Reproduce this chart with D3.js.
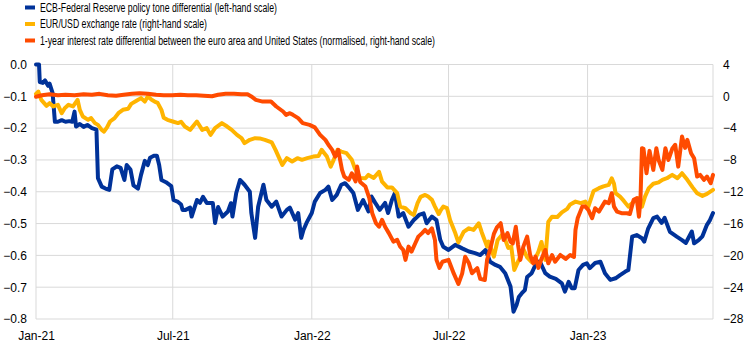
<!DOCTYPE html>
<html>
<head>
<meta charset="utf-8">
<script src="https://cdn.jsdelivr.net/npm/d3@7"></script>
<style>
  html, body { margin: 0; padding: 0; background: #fff; }
  svg { display: block; }
</style>
</head>
<body>
<svg id="chart" width="746" height="346"></svg>
<script>
// ---------- DATA ----------
const legendLabels = [
  "ECB-Federal Reserve policy tone differential (left-hand scale)",
  "EUR/USD exchange rate (right-hand scale)",
  "1-year interest rate differential between the euro area and United States (normalised, right-hand scale)"
];
const seriesColors = ["#003299", "#ffb400", "#ff4b00"];
const leftTicks = [0, -0.1, -0.2, -0.3, -0.4, -0.5, -0.6, -0.7, -0.8];
const rightTicks = [4, 0, -4, -8, -12, -16, -20, -24, -28];
const xTickDates = ["2021-01-01", "2021-07-01", "2022-01-01", "2022-07-01", "2023-01-01"];

// ECB-Fed policy tone differential (left-hand scale)
const toneDiff = [
["2021-01-01",0.0],["2021-01-05",0.0],["2021-01-06",-0.055],["2021-01-10",-0.058],["2021-01-13",-0.05],["2021-01-17",-0.067],["2021-01-19",-0.06],["2021-01-23",-0.09],["2021-01-26",-0.18],["2021-01-30",-0.18],["2021-02-04",-0.175],["2021-02-09",-0.18],["2021-02-14",-0.178],["2021-02-18",-0.18],["2021-02-21",-0.148],["2021-02-23",-0.195],["2021-02-28",-0.187],["2021-03-05",-0.196],["2021-03-10",-0.19],["2021-03-16",-0.2],["2021-03-22",-0.205],["2021-03-24",-0.357],["2021-03-29",-0.384],["2021-04-03",-0.39],["2021-04-08",-0.394],["2021-04-12",-0.33],["2021-04-18",-0.32],["2021-04-23",-0.325],["2021-04-28",-0.363],["2021-05-01",-0.316],["2021-05-06",-0.33],["2021-05-10",-0.38],["2021-05-16",-0.39],["2021-05-20",-0.347],["2021-05-25",-0.303],["2021-05-29",-0.316],["2021-06-01",-0.293],["2021-06-06",-0.287],["2021-06-10",-0.287],["2021-06-13",-0.316],["2021-06-16",-0.363],["2021-06-22",-0.37],["2021-06-29",-0.382],["2021-07-02",-0.426],["2021-07-08",-0.432],["2021-07-12",-0.44],["2021-07-14",-0.457],["2021-07-18",-0.457],["2021-07-24",-0.45],["2021-07-26",-0.478],["2021-08-02",-0.426],["2021-08-06",-0.435],["2021-08-10",-0.416],["2021-08-15",-0.435],["2021-08-19",-0.435],["2021-08-23",-0.435],["2021-08-26",-0.498],["2021-08-30",-0.448],["2021-09-05",-0.478],["2021-09-12",-0.462],["2021-09-16",-0.436],["2021-09-18",-0.478],["2021-09-23",-0.404],["2021-09-28",-0.363],["2021-10-04",-0.378],["2021-10-11",-0.4],["2021-10-13",-0.467],["2021-10-18",-0.545],["2021-10-22",-0.447],["2021-10-29",-0.378],["2021-11-02",-0.426],["2021-11-09",-0.447],["2021-11-15",-0.431],["2021-11-22",-0.478],["2021-11-29",-0.457],["2021-12-03",-0.45],["2021-12-10",-0.488],["2021-12-14",-0.467],["2021-12-18",-0.545],["2021-12-21",-0.52],["2021-12-25",-0.498],["2022-01-01",-0.467],["2022-01-05",-0.431],["2022-01-12",-0.404],["2022-01-19",-0.394],["2022-01-23",-0.384],["2022-01-28",-0.426],["2022-02-03",-0.41],["2022-02-09",-0.378],["2022-02-14",-0.373],["2022-02-20",-0.389],["2022-02-25",-0.404],["2022-03-03",-0.457],["2022-03-10",-0.426],["2022-03-17",-0.462],["2022-03-21",-0.415],["2022-03-26",-0.435],["2022-04-01",-0.457],["2022-04-08",-0.435],["2022-04-12",-0.467],["2022-04-17",-0.426],["2022-04-21",-0.404],["2022-04-26",-0.478],["2022-05-02",-0.467],["2022-05-09",-0.51],["2022-05-16",-0.489],["2022-05-23",-0.473],["2022-05-29",-0.468],["2022-06-02",-0.499],["2022-06-09",-0.478],["2022-06-15",-0.489],["2022-06-20",-0.551],["2022-06-24",-0.573],["2022-07-01",-0.583],["2022-07-10",-0.567],["2022-07-19",-0.578],["2022-07-28",-0.588],["2022-08-05",-0.593],["2022-08-12",-0.599],["2022-08-19",-0.583],["2022-08-25",-0.62],["2022-09-01",-0.63],["2022-09-07",-0.636],["2022-09-14",-0.656],["2022-09-21",-0.698],["2022-09-25",-0.777],["2022-09-29",-0.756],["2022-10-02",-0.731],["2022-10-06",-0.719],["2022-10-10",-0.709],["2022-10-13",-0.668],["2022-10-19",-0.656],["2022-10-26",-0.62],["2022-10-30",-0.62],["2022-11-06",-0.656],["2022-11-12",-0.667],["2022-11-20",-0.674],["2022-11-28",-0.688],["2022-12-02",-0.714],["2022-12-07",-0.683],["2022-12-11",-0.703],["2022-12-15",-0.703],["2022-12-20",-0.646],["2022-12-26",-0.63],["2022-12-31",-0.625],["2023-01-04",-0.64],["2023-01-11",-0.624],["2023-01-18",-0.62],["2023-01-24",-0.656],["2023-01-31",-0.677],["2023-02-07",-0.672],["2023-02-13",-0.662],["2023-02-20",-0.651],["2023-02-24",-0.646],["2023-03-01",-0.541],["2023-03-07",-0.536],["2023-03-14",-0.546],["2023-03-17",-0.557],["2023-03-22",-0.517],["2023-03-29",-0.483],["2023-04-03",-0.478],["2023-04-09",-0.498],["2023-04-13",-0.482],["2023-04-20",-0.526],["2023-04-29",-0.541],["2023-05-06",-0.552],["2023-05-11",-0.561],["2023-05-19",-0.525],["2023-05-22",-0.562],["2023-05-28",-0.552],["2023-06-02",-0.54],["2023-06-08",-0.504],["2023-06-12",-0.489],["2023-06-16",-0.467]
];

// EUR/USD exchange rate (right-hand scale)
const eurUsd = [
["2021-01-01",0.31],["2021-01-04",0.6],["2021-01-08",-0.44],["2021-01-15",-1.2],["2021-01-19",-0.86],["2021-01-24",-1.28],["2021-01-30",-1.07],["2021-02-04",-2.12],["2021-02-08",-1.49],["2021-02-13",-1.07],["2021-02-19",-1.28],["2021-02-25",-0.44],["2021-02-28",-1.7],["2021-03-04",-2.54],["2021-03-11",-2.96],["2021-03-15",-2.74],["2021-03-20",-3.37],["2021-03-24",-3.59],["2021-03-29",-4.22],["2021-04-01",-4.43],["2021-04-05",-3.9],["2021-04-09",-3.17],["2021-04-15",-2.74],["2021-04-20",-2.12],["2021-04-26",-1.7],["2021-05-03",-1.57],["2021-05-07",-0.95],["2021-05-14",-0.57],["2021-05-20",-0.23],["2021-05-25",-0.66],["2021-05-29",-0.03],["2021-06-03",-0.44],["2021-06-07",-0.66],["2021-06-11",-0.82],["2021-06-16",-1.7],["2021-06-19",-2.7],["2021-06-24",-2.96],["2021-07-01",-3.17],["2021-07-08",-3.37],["2021-07-12",-3.2],["2021-07-17",-3.8],["2021-07-24",-4.22],["2021-08-02",-3.17],["2021-08-09",-4.22],["2021-08-15",-4.0],["2021-08-20",-4.85],["2021-08-26",-4.0],["2021-09-04",-3.37],["2021-09-11",-3.8],["2021-09-17",-4.22],["2021-09-24",-4.85],["2021-09-30",-5.26],["2021-10-04",-5.89],["2021-10-11",-5.47],["2021-10-18",-5.26],["2021-10-24",-5.29],["2021-10-31",-5.47],["2021-11-09",-5.79],["2021-11-14",-6.73],["2021-11-18",-7.58],["2021-11-23",-8.62],["2021-11-29",-7.78],["2021-12-06",-8.2],["2021-12-13",-7.78],["2021-12-19",-7.99],["2021-12-26",-7.78],["2022-01-03",-7.58],["2022-01-10",-7.5],["2022-01-14",-6.73],["2022-01-21",-7.58],["2022-01-26",-8.84],["2022-01-30",-7.99],["2022-02-04",-6.73],["2022-02-09",-6.95],["2022-02-16",-7.15],["2022-02-23",-7.99],["2022-02-27",-9.04],["2022-03-06",-10.26],["2022-03-13",-10.3],["2022-03-17",-9.88],["2022-03-24",-10.26],["2022-03-31",-9.5],["2022-04-04",-10.72],["2022-04-11",-11.45],["2022-04-17",-11.45],["2022-04-24",-12.18],["2022-04-28",-13.87],["2022-05-05",-14.07],["2022-05-12",-14.7],["2022-05-16",-14.91],["2022-05-21",-13.44],["2022-05-25",-12.65],["2022-05-31",-12.4],["2022-06-04",-12.61],["2022-06-09",-13.02],["2022-06-13",-13.87],["2022-06-18",-14.8],["2022-06-21",-14.28],["2022-06-24",-13.87],["2022-06-29",-14.07],["2022-07-03",-15.54],["2022-07-10",-17.22],["2022-07-14",-18.37],["2022-07-21",-17.05],["2022-07-28",-16.59],["2022-08-03",-16.8],["2022-08-10",-15.96],["2022-08-14",-17.12],["2022-08-21",-18.9],["2022-08-23",-18.27],["2022-08-30",-20.16],["2022-09-04",-18.06],["2022-09-11",-17.3],["2022-09-18",-19.06],["2022-09-22",-18.9],["2022-09-26",-21.83],["2022-10-02",-20.57],["2022-10-08",-19.2],["2022-10-13",-20.26],["2022-10-19",-20.83],["2022-10-23",-20.57],["2022-10-28",-19.53],["2022-11-01",-18.31],["2022-11-06",-20.57],["2022-11-10",-15.79],["2022-11-15",-15.13],["2022-11-22",-15.17],["2022-11-28",-14.6],["2022-12-05",-14.16],["2022-12-09",-13.59],["2022-12-16",-13.24],["2022-12-23",-13.44],["2022-12-29",-13.24],["2023-01-02",-13.87],["2023-01-09",-11.9],["2023-01-16",-11.55],["2023-01-22",-11.33],["2023-01-29",-11.14],["2023-02-02",-10.3],["2023-02-05",-11.0],["2023-02-07",-12.18],["2023-02-13",-12.61],["2023-02-18",-13.15],["2023-02-24",-13.87],["2023-03-03",-13.24],["2023-03-09",-12.81],["2023-03-14",-13.87],["2023-03-18",-12.61],["2023-03-23",-11.55],["2023-03-29",-11.0],["2023-04-05",-10.82],["2023-04-10",-10.5],["2023-04-16",-10.3],["2023-04-23",-9.88],["2023-04-30",-10.3],["2023-05-06",-9.67],["2023-05-13",-10.5],["2023-05-20",-11.45],["2023-05-26",-12.18],["2023-06-02",-12.52],["2023-06-08",-12.27],["2023-06-16",-11.77]
];

// 1-year interest rate differential, normalised (right-hand scale)
const rateDiff = [
["2021-01-01",-0.06],["2021-01-09",0.13],["2021-01-19",0.25],["2021-01-30",0.13],["2021-02-09",0.19],["2021-02-21",0.13],["2021-03-05",0.25],["2021-03-16",0.19],["2021-03-26",0.31],["2021-04-06",0.13],["2021-04-17",0.06],["2021-04-27",0.19],["2021-05-08",0.31],["2021-05-18",0.38],["2021-05-29",0.31],["2021-06-09",0.19],["2021-06-19",0.13],["2021-06-30",0.13],["2021-07-11",0.19],["2021-07-21",0.13],["2021-08-01",0.13],["2021-08-11",0.06],["2021-08-22",0.0],["2021-08-30",0.19],["2021-09-09",0.31],["2021-09-20",0.31],["2021-09-30",0.25],["2021-10-08",0.25],["2021-10-13",-0.02],["2021-10-19",-0.44],["2021-10-28",-0.66],["2021-11-08",-0.66],["2021-11-15",-1.28],["2021-11-24",-1.91],["2021-11-28",-2.33],["2021-12-03",-2.12],["2021-12-07",-2.33],["2021-12-14",-2.74],["2021-12-20",-3.37],["2021-12-29",-3.59],["2022-01-05",-3.9],["2022-01-12",-4.85],["2022-01-19",-5.48],["2022-01-23",-6.1],["2022-01-28",-6.73],["2022-02-01",-7.58],["2022-02-05",-6.73],["2022-02-10",-9.25],["2022-02-13",-10.1],["2022-02-19",-10.5],["2022-02-23",-9.67],["2022-02-28",-10.7],["2022-03-02",-8.83],["2022-03-06",-10.76],["2022-03-13",-11.35],["2022-03-18",-12.77],["2022-03-22",-14.7],["2022-03-27",-15.96],["2022-03-31",-16.4],["2022-04-04",-15.54],["2022-04-08",-16.4],["2022-04-13",-17.2],["2022-04-19",-18.27],["2022-04-24",-18.06],["2022-04-28",-18.9],["2022-05-02",-19.3],["2022-05-05",-20.57],["2022-05-09",-18.9],["2022-05-13",-19.53],["2022-05-18",-18.47],["2022-05-22",-17.64],["2022-05-27",-17.2],["2022-05-31",-16.8],["2022-06-04",-17.2],["2022-06-09",-16.6],["2022-06-13",-18.06],["2022-06-15",-20.57],["2022-06-19",-21.58],["2022-06-23",-20.8],["2022-07-01",-20.57],["2022-07-08",-22.3],["2022-07-14",-23.6],["2022-07-19",-22.3],["2022-07-23",-20.16],["2022-07-28",-21.0],["2022-08-01",-22.25],["2022-08-08",-21.6],["2022-08-12",-22.96],["2022-08-18",-23.1],["2022-08-21",-20.57],["2022-08-26",-18.9],["2022-08-30",-17.3],["2022-09-03",-16.48],["2022-09-08",-15.96],["2022-09-12",-18.06],["2022-09-17",-17.2],["2022-09-21",-18.27],["2022-09-24",-18.5],["2022-09-28",-16.4],["2022-10-01",-18.7],["2022-10-04",-20.57],["2022-10-08",-18.9],["2022-10-13",-17.64],["2022-10-17",-19.95],["2022-10-21",-21.0],["2022-10-24",-20.16],["2022-10-28",-21.58],["2022-11-01",-20.45],["2022-11-06",-19.32],["2022-11-10",-21.0],["2022-11-15",-19.95],["2022-11-19",-20.8],["2022-11-26",-19.95],["2022-12-03",-20.45],["2022-12-09",-19.95],["2022-12-14",-20.2],["2022-12-16",-16.8],["2022-12-19",-15.29],["2022-12-25",-13.87],["2022-12-29",-13.87],["2023-01-02",-14.28],["2023-01-07",-15.33],["2023-01-11",-14.07],["2023-01-16",-14.5],["2023-01-20",-13.87],["2023-01-24",-13.24],["2023-01-29",-13.44],["2023-02-02",-12.18],["2023-02-05",-13.87],["2023-02-09",-14.5],["2023-02-15",-14.7],["2023-02-22",-14.7],["2023-02-26",-14.8],["2023-03-03",-13.02],["2023-03-07",-12.81],["2023-03-10",-15.13],["2023-03-12",-13.02],["2023-03-14",-6.52],["2023-03-16",-6.6],["2023-03-20",-9.67],["2023-03-24",-6.86],["2023-03-29",-9.25],["2023-04-02",-6.52],["2023-04-05",-8.0],["2023-04-10",-9.25],["2023-04-14",-6.52],["2023-04-18",-8.0],["2023-04-23",-6.6],["2023-04-27",-6.1],["2023-05-01",-8.84],["2023-05-06",-5.06],["2023-05-10",-6.48],["2023-05-13",-5.48],["2023-05-18",-7.15],["2023-05-22",-7.78],["2023-05-26",-10.09],["2023-05-30",-9.88],["2023-06-04",-10.5],["2023-06-08",-10.09],["2023-06-13",-10.92],["2023-06-16",-9.88]
];

// ---------- CHART ----------
const parse = d3.timeParse("%Y-%m-%d");
const svg = d3.select("#chart");
const plot = { left: 36, right: 713, top: 64.5, bottom: 319 };

const x = d3.scaleTime()
  .domain([parse("2021-01-01"), parse("2023-06-16")])
  .range([plot.left, plot.right]);
const yL = d3.scaleLinear().domain([-0.8, 0]).range([plot.bottom, plot.top]);
const yR = d3.scaleLinear().domain([-28, 4]).range([plot.bottom, plot.top]);

const gridColor = "#d9d9d9";
const font = "'Liberation Sans', Arial, sans-serif";

// horizontal gridlines
svg.append("g")
  .selectAll("line").data(leftTicks).join("line")
  .attr("x1", plot.left).attr("x2", plot.right)
  .attr("y1", d => yL(d)).attr("y2", d => yL(d))
  .attr("stroke", gridColor).attr("stroke-width", 1);

// vertical gridlines
const xTicks = xTickDates.map(parse);
svg.append("g")
  .selectAll("line").data(xTicks).join("line")
  .attr("x1", d => x(d)).attr("x2", d => x(d))
  .attr("y1", plot.top).attr("y2", plot.bottom)
  .attr("stroke", gridColor).attr("stroke-width", 1);
svg.append("line")
  .attr("x1", plot.right).attr("x2", plot.right)
  .attr("y1", plot.top).attr("y2", plot.bottom)
  .attr("stroke", gridColor).attr("stroke-width", 1);

// axes (labels only, via d3 axes)
const axL = d3.axisLeft(yL).tickValues(leftTicks).tickFormat(d3.format(".1f")).tickSize(0).tickPadding(9);
const axR = d3.axisRight(yR).tickValues(rightTicks).tickFormat(d => d3.format("d")(d)).tickSize(0).tickPadding(10);
const axB = d3.axisBottom(x).tickValues(xTicks).tickFormat(d3.timeFormat("%b-%y")).tickSize(0).tickPadding(12);

function styleAxis(g) {
  g.select(".domain").remove();
  g.selectAll("text").attr("font-family", font).attr("font-size", 12).attr("fill", "#000");
}
svg.append("g").attr("transform", `translate(${plot.left},0)`).call(axL).call(styleAxis);
svg.append("g").attr("transform", `translate(${plot.right},0)`).call(axR).call(styleAxis);
svg.append("g").attr("transform", `translate(0,${plot.bottom})`).call(axB).call(styleAxis);

// lines
const lineL = d3.line().x(d => x(parse(d[0]))).y(d => yL(d[1]));
const lineR = d3.line().x(d => x(parse(d[0]))).y(d => yR(d[1]));

const series = [
  { data: toneDiff, gen: lineL, color: seriesColors[0] },
  { data: eurUsd, gen: lineR, color: seriesColors[1] },
  { data: rateDiff, gen: lineR, color: seriesColors[2] }
];
svg.append("g").selectAll("path").data(series).join("path")
  .attr("d", s => s.gen(s.data))
  .attr("fill", "none")
  .attr("stroke", s => s.color)
  .attr("stroke-width", 4)
  .attr("stroke-linejoin", "round")
  .attr("stroke-linecap", "round");

// legend
const legendWidths = [237, 167, 395];
const legendY = [7.5, 24, 40.5];
const lg = svg.append("g");
legendLabels.forEach((lab, i) => {
  lg.append("rect").attr("x", 25).attr("y", legendY[i] - 2).attr("width", 10).attr("height", 4)
    .attr("fill", seriesColors[i]);
  lg.append("text").attr("x", 40).attr("y", legendY[i] + 4.3)
    .attr("font-family", "'Liberation Sans Narrow', 'Arial Narrow', 'Liberation Sans', Arial, sans-serif")
    .attr("font-size", 12.5)
    .attr("fill", "#000")
    .attr("textLength", legendWidths[i])
    .attr("lengthAdjust", "spacingAndGlyphs")
    .text(lab);
});
</script>
</body>
</html>
